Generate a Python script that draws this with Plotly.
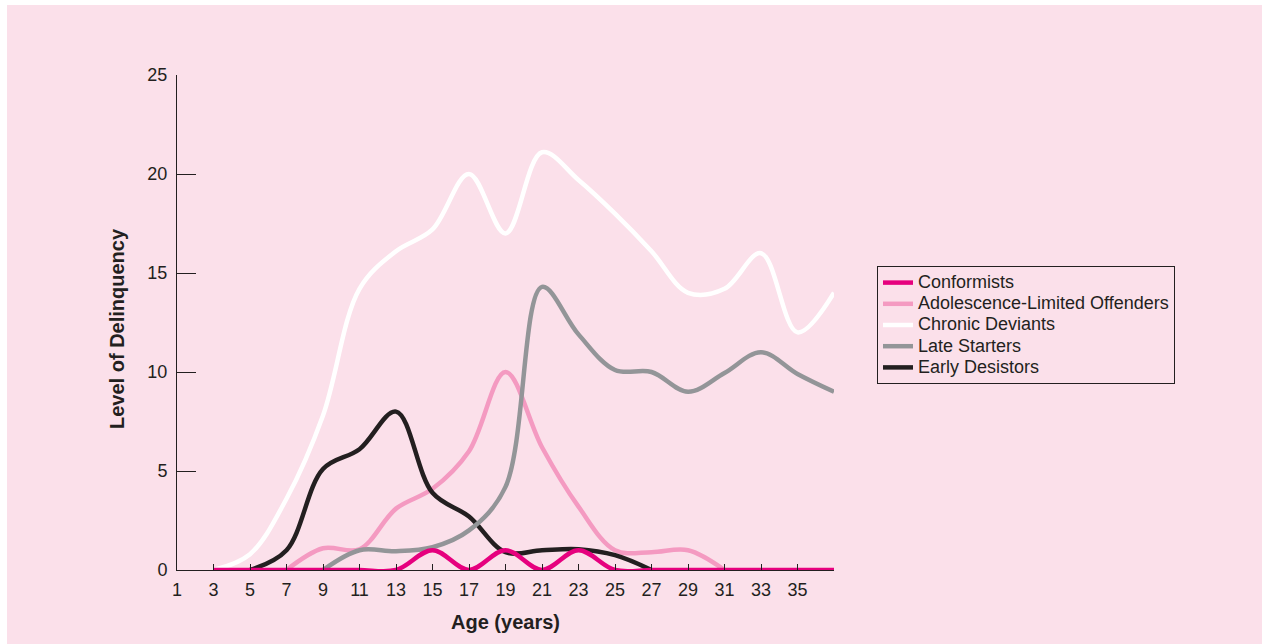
import plotly.graph_objects as go

# ---- data ----
ages = [3, 5, 7, 9, 11, 13, 15, 17, 19, 21, 23, 25, 27, 29, 31, 33, 35, 37]
conformists = [0, 0, 0, 0, 0, 0, 1, 0, 1, 0, 1, 0, 0, 0, 0, 0, 0, 0]
chronic = [0, 0.8, 3.6, 7.8, 14.2, 16.1, 17.2, 20.0, 17.0, 21.1, 19.7, 18.0, 16.1, 14.0, 14.2, 16.0, 12.0, 14.0]

adolescence_ages = [7, 9, 11, 13, 15, 17, 19, 21, 23, 25, 27, 29, 31]
adolescence = [0, 1.1, 1.05, 3.1, 4.1, 6.0, 10.0, 6.2, 3.2, 1.0, 0.9, 1.0, 0]

late_ages = [9, 11, 13, 15, 17, 19, 21, 23, 25, 27, 29, 31, 33, 35, 37]
late = [0, 1.0, 0.95, 1.15, 2.0, 4.2, 14.3, 11.9, 10.1, 10.0, 9.0, 9.95, 11.0, 9.9, 9.0]

early_ages = [5, 7, 9, 11, 13, 15, 17, 19, 21, 23, 25, 27]
early = [0, 1.0, 5.1, 6.1, 8.0, 3.9, 2.7, 0.9, 1.0, 1.05, 0.75, 0]

x_tickvals = list(range(1, 38, 2))
x_ticktext = [str(v) for v in range(1, 36, 2)] + [""]
y_tickvals = [0, 5, 10, 15, 20, 25]

# ---- styling ----
BG = "#fbe0ea"
INK = "#231f20"
FONT = "Liberation Sans, Arial, sans-serif"
LW = 4.5

fig = go.Figure()

def add(x, y, name, color, rank):
    fig.add_trace(go.Scatter(
        x=x, y=y, name="<span style='font-size:18px'>" + name + "</span>", mode="lines",
        line=dict(color=color, width=LW, shape="spline", smoothing=1.0),
        cliponaxis=False, legendrank=rank, hoverinfo="skip",
    ))

# drawing order (bottom -> top)
add(adolescence_ages, adolescence, "Adolescence-Limited Offenders", "#f49ac1", 2)
add(early_ages, early, "Early Desistors", INK, 5)
add(late_ages, late, "Late Starters", "#939598", 4)
add(ages, chronic, "Chronic Deviants", "#ffffff", 3)
add(ages, conformists, "Conformists", "#e6007e", 1)

L, R, T, B = 177, 428, 75, 74
W, H = 1262, 644
pw, ph = W - L - R, H - T - B

shapes = [
    # white page strips at top and left
    dict(type="rect", xref="paper", yref="paper", layer="below",
         x0=-L / pw, x1=(7 - L) / pw, y0=-B / ph, y1=1 + T / ph,
         fillcolor="white", line_width=0),
    dict(type="rect", xref="paper", yref="paper", layer="below",
         x0=-L / pw, x1=1 + R / pw, y0=1 + (T - 5) / ph, y1=1 + T / ph,
         fillcolor="white", line_width=0),
]

fig.update_layout(
    width=W, height=H,
    margin=dict(l=L, r=R, t=T, b=B, pad=0),
    paper_bgcolor=BG, plot_bgcolor=BG,
    font=dict(family=FONT, size=18, color=INK),
    shapes=shapes,
    showlegend=True,
    legend=dict(
        x=(877 - L) / pw, y=(570 - 266) / ph, xanchor="left", yanchor="top",
        bgcolor=BG, bordercolor=INK, borderwidth=1,
        font=dict(family=FONT, size=14, color=INK),
        traceorder="normal", tracegroupgap=0,
    ),
    xaxis=dict(
        range=[1, 37], showgrid=False, zeroline=False,
        showline=True, linecolor=INK, linewidth=1,
        ticks="inside", ticklen=6, tickcolor=INK, tickwidth=1,
        tickvals=x_tickvals, ticktext=x_ticktext, ticklabelstandoff=3,
        tickfont=dict(family=FONT, size=18, color=INK),
        title=dict(text="<b>Age (years)</b>", font=dict(family=FONT, size=20, color=INK), standoff=16),
    ),
    yaxis=dict(
        range=[0, 25], showgrid=False, zeroline=False,
        showline=True, linecolor=INK, linewidth=1,
        ticks="inside", ticklen=19, tickcolor=INK, tickwidth=1,
        tickvals=y_tickvals, ticklabelstandoff=5,
        tickfont=dict(family=FONT, size=18, color=INK),
    ),
    annotations=[dict(
        text="<b>Level of Delinquency</b>", textangle=-90,
        xref="paper", yref="paper", x=(117 - L) / pw, y=(570 - 329) / ph,
        xanchor="center", yanchor="middle", showarrow=False,
        font=dict(family=FONT, size=20, color=INK),
    )],
)

fig.write_html("out.html", config={"displayModeBar": False},
               post_script="document.body.style.margin='0px';")
